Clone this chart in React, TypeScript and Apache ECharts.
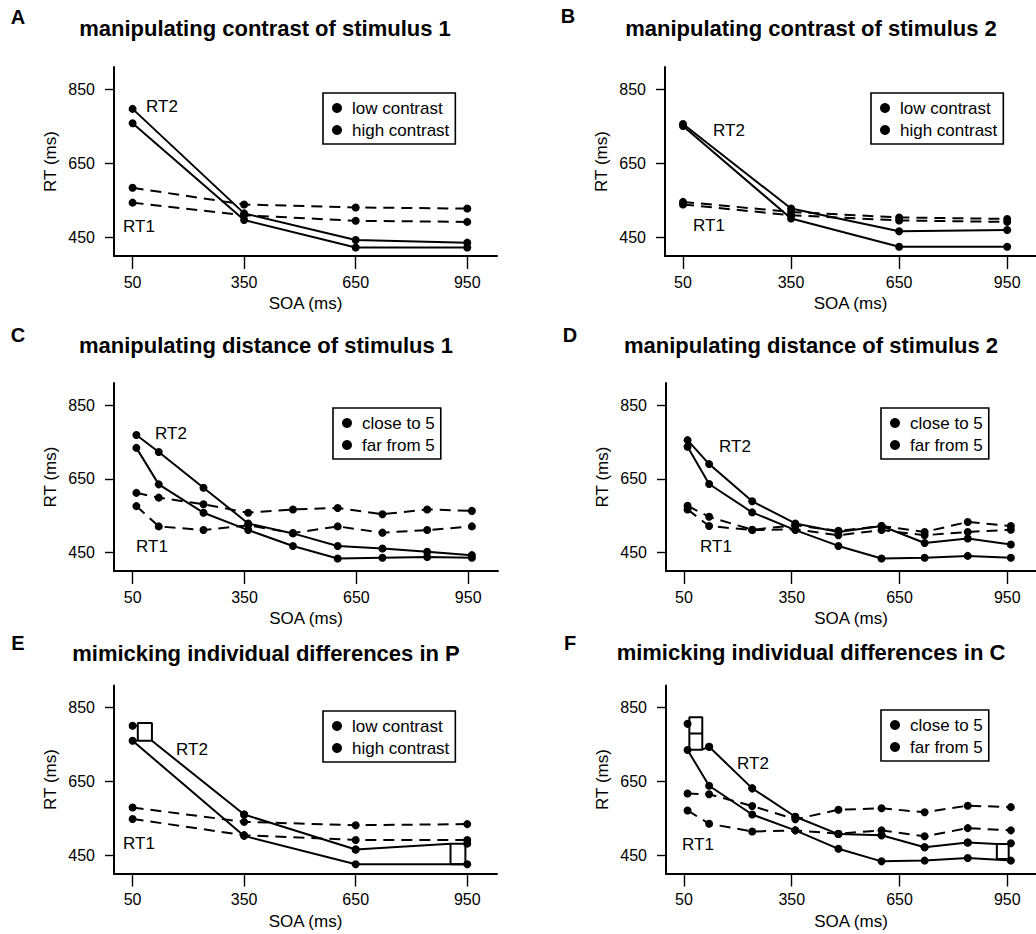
import React, { useEffect, useRef } from "react";
import * as echarts from "echarts";

const FONT = '"Liberation Sans", Arial, Helvetica, sans-serif';

// ---- axes ----
const soaFour = [50, 350, 650, 950];
const soaNine = [60, 120, 240, 360, 480, 600, 720, 840, 960];
const xTickValues = [50, 350, 650, 950];
const yTickValues = [450, 650, 850];

// ---- legend names ----
const contrastNames = ["low contrast", "high contrast"];
const distanceNames = ["close to 5", "far from 5"];

// ---- Panel A: manipulating contrast of stimulus 1 ----
const rtA2Low = [797, 515, 443, 436];
const rtA2High = [758, 497, 423, 423];
const rtA1Low = [584, 539, 531, 528];
const rtA1High = [544, 510, 495, 492];

// ---- Panel B: manipulating contrast of stimulus 2 ----
const rtB2Low = [756, 528, 467, 470];
const rtB2High = [751, 501, 425, 425];
const rtB1Low = [546, 519, 504, 500];
const rtB1High = [539, 510, 496, 492];

// ---- Panel C: manipulating distance of stimulus 1 ----
const rtC2Close = [769, 723, 626, 529, 502, 468, 461, 452, 443];
const rtC2Far = [734, 635, 558, 511, 468, 434, 436, 438, 436];
const rtC1Close = [612, 599, 581, 558, 567, 571, 554, 567, 563];
const rtC1Far = [576, 521, 511, 524, 503, 521, 504, 511, 521];

// ---- Panel D: manipulating distance of stimulus 2 ----
const rtD2Close = [755, 690, 589, 529, 506, 522, 476, 488, 472];
const rtD2Far = [737, 636, 559, 511, 468, 434, 436, 441, 436];
const rtD1Close = [577, 547, 512, 524, 509, 522, 506, 533, 522];
const rtD1Far = [567, 522, 511, 513, 497, 511, 497, 506, 512];

// ---- Panel E: mimicking individual differences in P ----
const rtE2Low = [801, 560, 465, 481];
const rtE2High = [760, 502, 425, 425];
const rtE1Low = [579, 540, 531, 534];
const rtE1High = [548, 504, 491, 491];
const eBoxStart = [64, 102, 760, 808]; // x0, x1, yLow, yHigh
const eBoxEnd = [905, 945, 425, 481];

// ---- Panel F: mimicking individual differences in C ----
const rtF2Close = [806, 744, 631, 554, 507, 504, 471, 484, 482];
const rtF2Far = [735, 638, 560, 517, 467, 433, 435, 442, 435];
const rtF1Close = [617, 615, 583, 547, 573, 577, 566, 584, 580];
const rtF1Far = [571, 535, 514, 517, 508, 517, 501, 523, 517];
const fBoxStart = [65, 101, 736, 824];
const fBoxDivider = 780;
const fBoxEnd = [921, 954, 439, 480];

// ---- layout ----
const panels = [
  { left: 114, top: 67, width: 383, height: 189, title: "manipulating contrast of stimulus 1", tx: 265, ty: 28, letter: "A", lx: 18, ly: 17, rt2: [162, 106], rt1: [139, 226], lgLeft: 323, lgTop: 93, names: contrastNames },
  { left: 665, top: 67, width: 376, height: 189, title: "manipulating contrast of stimulus 2", tx: 811, ty: 28, letter: "B", lx: 568, ly: 16, rt2: [729, 130], rt1: [709, 225], lgLeft: 871, lgTop: 93, names: contrastNames },
  { left: 114, top: 383, width: 384, height: 188, title: "manipulating distance of stimulus 1", tx: 266, ty: 345, letter: "C", lx: 18, ly: 335, rt2: [171, 433], rt1: [152, 546], lgLeft: 333, lgTop: 408, names: distanceNames },
  { left: 666, top: 383, width: 375, height: 188, title: "manipulating distance of stimulus 2", tx: 811, ty: 345, letter: "D", lx: 570, ly: 335, rt2: [735, 446], rt1: [716, 546], lgLeft: 881, lgTop: 408, names: distanceNames },
  { left: 114, top: 685.5, width: 383, height: 188, title: "mimicking individual differences in P", tx: 266, ty: 653, letter: "E", lx: 18, ly: 643, rt2: [192, 749], rt1: [139, 843], lgLeft: 323, lgTop: 711, names: contrastNames },
  { left: 666, top: 685.5, width: 375.5, height: 188, title: "mimicking individual differences in C", tx: 811, ty: 652, letter: "F", lx: 570, ly: 643, rt2: [753, 763], rt1: [698, 844], lgLeft: 881, lgTop: 710, names: distanceNames },
];

const zip = (xs: number[], ys: number[]) => xs.map((x, i) => [x, ys[i]]);

function lineSeries(idx: number, name: string | undefined, data: any[], dashed: boolean, showSymbol = true) {
  return {
    type: "line",
    name,
    xAxisIndex: idx,
    yAxisIndex: idx,
    data,
    symbol: showSymbol ? "circle" : "none",
    symbolSize: 8,
    showSymbol,
    itemStyle: { color: "#000", opacity: 1 },
    lineStyle: { color: "#000", width: 2, type: dashed ? [11, 7] : "solid" },
    silent: true,
    z: dashed ? 2 : 3,
  };
}

function dots(idx: number, data: any[]) {
  return {
    type: "scatter",
    xAxisIndex: idx,
    yAxisIndex: idx,
    data,
    symbol: "circle",
    symbolSize: 8,
    itemStyle: { color: "#000", opacity: 1 },
    silent: true,
    z: 4,
  };
}

const boxPts = (b: number[]) => [
  [b[0], b[2]],
  [b[1], b[2]],
  [b[1], b[3]],
  [b[0], b[3]],
  [b[0], b[2]],
];

function buildSeries() {
  const s: any[] = [];
  // A
  s.push(lineSeries(0, contrastNames[0], zip(soaFour, rtA2Low), false));
  s.push(lineSeries(0, contrastNames[1], zip(soaFour, rtA2High), false));
  s.push(lineSeries(0, contrastNames[0], zip(soaFour, rtA1Low), true));
  s.push(lineSeries(0, contrastNames[1], zip(soaFour, rtA1High), true));
  // B
  s.push(lineSeries(1, contrastNames[0], zip(soaFour, rtB2Low), false));
  s.push(lineSeries(1, contrastNames[1], zip(soaFour, rtB2High), false));
  s.push(lineSeries(1, contrastNames[0], zip(soaFour, rtB1Low), true));
  s.push(lineSeries(1, contrastNames[1], zip(soaFour, rtB1High), true));
  // C
  s.push(lineSeries(2, distanceNames[0], zip(soaNine, rtC2Close), false));
  s.push(lineSeries(2, distanceNames[1], zip(soaNine, rtC2Far), false));
  s.push(lineSeries(2, distanceNames[0], zip(soaNine, rtC1Close), true));
  s.push(lineSeries(2, distanceNames[1], zip(soaNine, rtC1Far), true));
  // D
  s.push(lineSeries(3, distanceNames[0], zip(soaNine, rtD2Close), false));
  s.push(lineSeries(3, distanceNames[1], zip(soaNine, rtD2Far), false));
  s.push(lineSeries(3, distanceNames[0], zip(soaNine, rtD1Close), true));
  s.push(lineSeries(3, distanceNames[1], zip(soaNine, rtD1Far), true));
  // E
  const ePath = [
    { value: [eBoxStart[1], eBoxStart[2]], symbol: "none" },
    ...zip(soaFour.slice(1, 3), rtE2Low.slice(1, 3)),
    { value: [eBoxEnd[0], eBoxEnd[3]], symbol: "none" },
  ];
  s.push(lineSeries(4, contrastNames[0], ePath, false));
  s.push(dots(4, zip(soaFour, rtE2Low)));
  s.push(lineSeries(4, contrastNames[1], zip(soaFour, rtE2High), false));
  s.push(lineSeries(4, contrastNames[0], zip(soaFour, rtE1Low), true));
  s.push(lineSeries(4, contrastNames[1], zip(soaFour, rtE1High), true));
  s.push(lineSeries(4, undefined, boxPts(eBoxStart), false, false));
  s.push(lineSeries(4, undefined, boxPts(eBoxEnd), false, false));
  s.push(lineSeries(4, undefined, [[soaFour[0], rtE2Low[0]], [eBoxStart[0], rtE2Low[0]]], false, false));
  s.push(lineSeries(4, undefined, [[soaFour[0], rtE2High[0]], [eBoxStart[0], rtE2High[0]]], false, false));
  s.push(lineSeries(4, undefined, [[eBoxEnd[1], eBoxEnd[3]], [soaFour[3], rtE2Low[3]]], false, false));
  s.push(lineSeries(4, undefined, [[eBoxEnd[1], eBoxEnd[2]], [soaFour[3], rtE2High[3]]], false, false));
  // F
  const fPath = [
    { value: [fBoxStart[1], fBoxStart[2]], symbol: "none" },
    ...zip(soaNine.slice(1, 8), rtF2Close.slice(1, 8)),
    { value: [fBoxEnd[0], fBoxEnd[3]], symbol: "none" },
  ];
  s.push(lineSeries(5, distanceNames[0], fPath, false));
  s.push(dots(5, zip(soaNine, rtF2Close)));
  s.push(lineSeries(5, distanceNames[1], zip(soaNine, rtF2Far), false));
  s.push(lineSeries(5, distanceNames[0], zip(soaNine, rtF1Close), true));
  s.push(lineSeries(5, distanceNames[1], zip(soaNine, rtF1Far), true));
  s.push(lineSeries(5, undefined, boxPts(fBoxStart), false, false));
  s.push(lineSeries(5, undefined, [[fBoxStart[0], fBoxDivider], [fBoxStart[1], fBoxDivider]], false, false));
  s.push(lineSeries(5, undefined, boxPts(fBoxEnd), false, false));
  s.push(lineSeries(5, undefined, [[soaNine[0], rtF2Close[0]], [fBoxStart[0], rtF2Close[0]]], false, false));
  s.push(lineSeries(5, undefined, [[soaNine[0], rtF2Far[0]], [fBoxStart[0], fBoxStart[2]]], false, false));
  s.push(lineSeries(5, undefined, [[fBoxEnd[1], fBoxEnd[3]], [soaNine[8], rtF2Close[8]]], false, false));
  s.push(lineSeries(5, undefined, [[fBoxEnd[1], fBoxEnd[2]], [soaNine[8], rtF2Far[8]]], false, false));
  return s;
}

function buildOption() {
  const axisColor = "#000";
  return {
    animation: false,
    backgroundColor: "#fff",
    grid: panels.map((p) => ({ left: p.left, top: p.top, width: p.width, height: p.height, containLabel: false })),
    xAxis: panels.map((p, i) => ({
      type: "value",
      gridIndex: i,
      min: 0,
      max: 1030,
      name: "SOA (ms)",
      nameLocation: "middle",
      nameGap: 39,
      nameTextStyle: { fontSize: 17, color: "#000", fontFamily: FONT },
      axisLine: { show: true, onZero: false, lineStyle: { color: axisColor, width: 2 } },
      axisTick: { show: true, customValues: xTickValues, length: 13, lineStyle: { color: axisColor, width: 1.4 } },
      axisLabel: { customValues: xTickValues, color: "#000", fontSize: 16, margin: 18, fontFamily: FONT },
      splitLine: { show: false },
    })),
    yAxis: panels.map((p, i) => ({
      type: "value",
      gridIndex: i,
      min: 400,
      max: 910,
      name: "RT (ms)",
      nameLocation: "middle",
      nameGap: 55,
      nameTextStyle: { fontSize: 17, color: "#000", fontFamily: FONT },
      axisLine: { show: true, onZero: false, lineStyle: { color: axisColor, width: 2 } },
      axisTick: { show: true, customValues: yTickValues, length: 9, lineStyle: { color: axisColor, width: 1.4 } },
      axisLabel: { customValues: yTickValues, color: "#000", fontSize: 16, margin: 19, fontFamily: FONT },
      splitLine: { show: false },
    })),
    legend: panels.map((p) => ({
      data: p.names,
      left: p.lgLeft,
      top: p.lgTop,
      orient: "vertical",
      icon: "circle",
      itemWidth: 20,
      itemHeight: 10,
      itemGap: 4,
      padding: [6, 6, 5, 9],
      borderColor: "#000",
      borderWidth: 1.6,
      selectedMode: false,
      textStyle: { fontSize: 17, color: "#000", fontFamily: FONT, lineHeight: 18 },
    })),
    graphic: panels.flatMap((p) => [
      { type: "text", style: { text: p.title, x: p.tx, y: p.ty, align: "center", verticalAlign: "middle", font: `bold 22px ${FONT}`, fill: "#000" } },
      { type: "text", style: { text: p.letter, x: p.lx, y: p.ly, align: "center", verticalAlign: "middle", font: `bold 20px ${FONT}`, fill: "#000" } },
      { type: "text", style: { text: "RT2", x: p.rt2[0], y: p.rt2[1], align: "center", verticalAlign: "middle", font: `17px ${FONT}`, fill: "#000" } },
      { type: "text", style: { text: "RT1", x: p.rt1[0], y: p.rt1[1], align: "center", verticalAlign: "middle", font: `17px ${FONT}`, fill: "#000" } },
    ]),
    series: buildSeries(),
  };
}

export default function App() {
  const ref = useRef<HTMLDivElement>(null);
  useEffect(() => {
    document.body.style.margin = "0";
    if (!ref.current) return;
    const chart = echarts.init(ref.current, null, { renderer: "svg" });
    chart.setOption(buildOption() as any);
    return () => chart.dispose();
  }, []);
  return <div ref={ref} style={{ width: 1036, height: 934, background: "#fff" }} />;
}
